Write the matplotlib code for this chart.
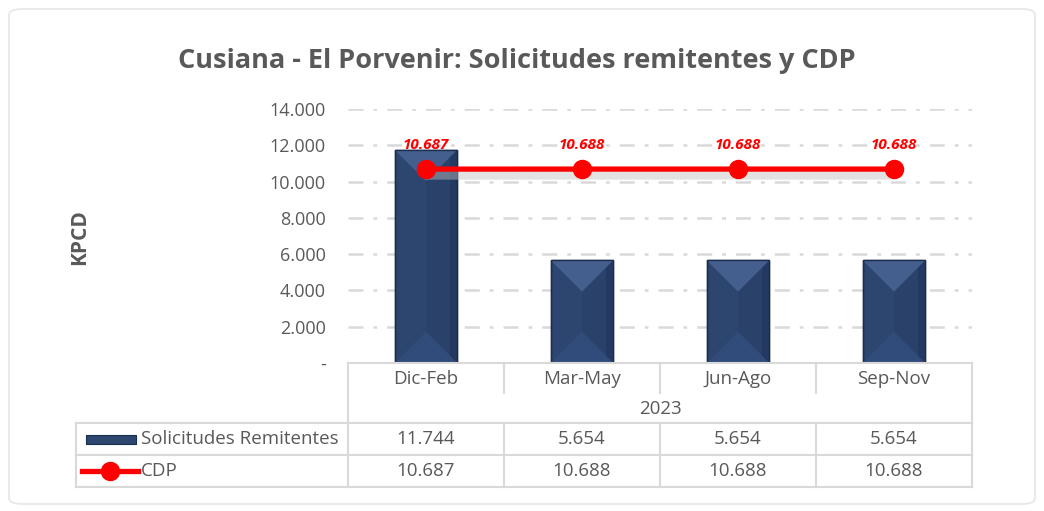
import numpy as np
import matplotlib
matplotlib.use("Agg")
import matplotlib.pyplot as plt
from matplotlib.patches import Polygon, FancyBboxPatch, Rectangle
from matplotlib.lines import Line2D
from matplotlib import transforms

plt.rcParams['font.family'] = ['Open Sans', 'DejaVu Sans']

categories = ["Dic-Feb", "Mar-May", "Jun-Ago", "Sep-Nov"]
year_label = "2023"
solicitudes = [11744, 5654, 5654, 5654]
cdp = [10687, 10688, 10688, 10688]
yticks = [0, 2000, 4000, 6000, 8000, 10000, 12000, 14000]
series_names = ["Solicitudes Remitentes", "CDP"]
title = "Cusiana - El Porvenir: Solicitudes remitentes y CDP"
ylabel = "KPCD"

W, H = 1044, 511
TXT = "#595959"
GRID = "#D9D9D9"
NAVY = "#2C4670"
RED = "#FF0000"
FS = 13.5


def fmt(v):
    return f"{v:,.0f}".replace(",", ".")


def px(x, y):
    return x / W, 1 - y / H


fig = plt.figure(figsize=(W / 100, H / 100), dpi=100)
fig.patch.set_facecolor("white")
card = FancyBboxPatch(px(9, 504), (1035 - 9) / W, (504 - 9) / H,
                      boxstyle="round,pad=0,rounding_size=0.012",
                      transform=fig.transFigure, facecolor="white",
                      edgecolor="#E6E6E6", linewidth=1.2, zorder=-5)
fig.patches.append(card)

left, right, top, bottom = 348, 972, 109, 363
ax = fig.add_axes([left / W, 1 - bottom / H, (right - left) / W, (bottom - top) / H])
ax.patch.set_alpha(0)
ax.set_xlim(-0.5, len(categories) - 0.5)
ax.set_ylim(0, 14000)
for s in ax.spines.values():
    s.set_visible(False)
ax.set_xticks([])
ax.set_yticks(yticks)
ax.set_yticklabels(["-" if v == 0 else fmt(v) for v in yticks], color=TXT, fontsize=13)
ax.tick_params(axis="y", length=0, pad=16)
for v in yticks[1:]:
    ax.axhline(v, color=GRID, lw=1.8, dashes=(6, 4, 1.5, 4), zorder=0)

x = np.arange(len(categories))
bw = 0.4
bars = ax.bar(x, solicitudes, width=bw, color=NAVY, edgecolor="#1C2E4D", lw=1, zorder=2)

# bevel facets
fig.canvas.draw()
sx = ax.transData.transform((bw / 2, 0))[0] - ax.transData.transform((0, 0))[0]
depth = abs(ax.transData.inverted().transform((0, sx))[1]
            - ax.transData.inverted().transform((0, 0))[1])
for xi, h in zip(x, solicitudes):
    l, r = xi - bw / 2, xi + bw / 2
    ax.add_patch(Polygon([(r, h), (r, 0), (xi, depth), (xi, h - depth)], closed=True,
                         facecolor="#2A426A", edgecolor="none", zorder=3))
    ax.add_patch(Rectangle((r - bw * 0.12, 0), bw * 0.12, h, facecolor="#233961",
                           edgecolor="none", zorder=3))
    ax.add_patch(Polygon([(l, h), (r, h), (xi, h - depth)], closed=True,
                         facecolor="#445F8E", edgecolor="none", zorder=3))
    ax.add_patch(Polygon([(l, 0), (r, 0), (xi, depth)], closed=True,
                         facecolor="#314C7A", edgecolor="none", zorder=3))
    ax.add_patch(Rectangle((l, 0), bw, h, facecolor="none", edgecolor="#1C2E4D", lw=1, zorder=4))

shadow = transforms.offset_copy(ax.transData, fig=fig, x=0, y=-5, units="dots")
ax.plot(x, cdp, color="#BFBFBF", lw=8, alpha=0.45, transform=shadow, zorder=4,
        solid_capstyle="butt")
ax.plot(x, cdp, color=RED, lw=3.8, marker="o", ms=13, zorder=5)
for xi, v in zip(x, cdp):
    ax.annotate(fmt(v), (xi, v), xytext=(0, 12), textcoords="offset points",
                ha="center", va="bottom", color=RED, fontsize=11,
                fontweight="bold", fontstyle="italic", zorder=6)

fig.text(*px(517, 61), title, ha="center", va="center", fontsize=19.5,
         fontweight="bold", color=TXT)
fig.text(*px(80, 237), ylabel, ha="center", va="center", rotation=90,
         fontsize=15, fontweight="bold", color=TXT)

# data table
LC = "#D9D9D9"


def hline(y, x0, x1):
    fig.add_artist(Line2D([x0 / W, x1 / W], [1 - y / H, 1 - y / H], color=LC, lw=1.5))


def vline(x0, y0, y1):
    fig.add_artist(Line2D([x0 / W, x0 / W], [1 - y0 / H, 1 - y1 / H], color=LC, lw=1.5))


tl, tr = 76, 972
rows = [423, 455, 487]
hline(bottom, left, right)
for y in rows:
    hline(y, tl, tr)
vline(left, bottom, 487)
vline(right, bottom, 487)
vline(tl, 423, 487)
colw = (right - left) / len(categories)
for i in range(1, len(categories)):
    xc = left + i * colw
    vline(xc, bottom, 393)
    vline(xc, 423, 487)

for i, c in enumerate(categories):
    xc = left + (i + 0.5) * colw
    fig.text(*px(xc, 379), c, ha="center", va="center", fontsize=FS, color=TXT)
    fig.text(*px(xc, 439), fmt(solicitudes[i]), ha="center", va="center", fontsize=FS, color=TXT)
    fig.text(*px(xc, 471), fmt(cdp[i]), ha="center", va="center", fontsize=FS, color=TXT)
fig.text(*px((left + right) / 2, 409), year_label, ha="center", va="center", fontsize=FS, color=TXT)

fig.text(*px(141, 439), series_names[0], ha="left", va="center", fontsize=FS, color=TXT)
fig.text(*px(141, 471), series_names[1], ha="left", va="center", fontsize=FS, color=TXT)
fig.patches.append(Rectangle(px(86, 444), 50 / W, 9 / H, transform=fig.transFigure,
                             facecolor=NAVY, edgecolor="#1C2E4D", lw=0.8))
fig.add_artist(Line2D([82 / W, 138 / W], [1 - 471 / H] * 2, color=RED, lw=3.8))
fig.add_artist(Line2D([110 / W], [1 - 471 / H], color=RED, marker="o", ms=13))

fig.savefig("out.png", dpi=100)
